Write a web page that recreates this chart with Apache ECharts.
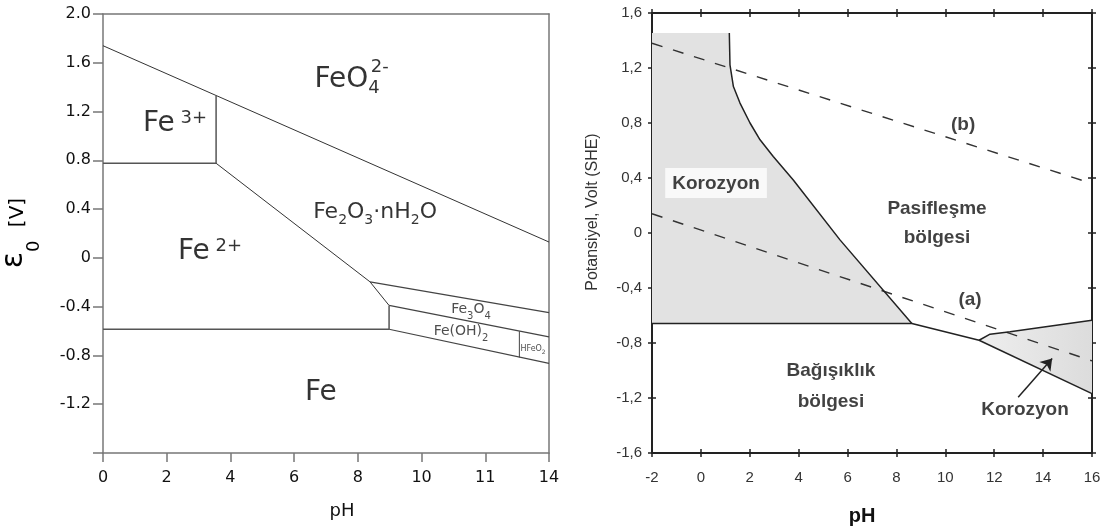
<!DOCTYPE html>
<html><head><meta charset="utf-8">
<script src="https://cdn.jsdelivr.net/npm/echarts@6/dist/echarts.min.js"></script>
<style>html,body{margin:0;padding:0;background:#fff}#c{width:1107px;height:530px}</style>
</head><body><div id="c"></div>
<script>
// ---------- Left diagram (Fe, epsilon_0 vs pH) ----------
const leftXTickLabels = ['0','2','4','6','8','10','11','14'];
const leftUpper = [[0,1.74],[14,0.13]];
const leftFe3Fe2 = [[0,0.776],[3.55,0.776]];
const leftFe3Vert = [[3.55,0.776],[3.55,1.33]];
const leftFe2Oxide = [[3.55,0.776],[8.38,-0.196],[8.98,-0.39]];
const leftFe3o4Top = [[8.38,-0.196],[14,-0.449]];
const leftFe3o4Bottom = [[8.98,-0.39],[14,-0.647]];
const leftFeOhBottom = [[8.98,-0.585],[14,-0.865]];
const leftFe2Vert = [[8.98,-0.39],[8.98,-0.585]];
const leftFeFe2 = [[0,-0.585],[8.98,-0.585]];
const leftHfeo2Vert = [[13.07,-0.602],[13.07,-0.817]];
// label anchor points [pH, E]
const leftLabelFeO4 = [7.66,1.461];
const leftLabelFeO4Charge = [8.69,1.559];
const leftLabelFe3 = [2.26,1.10];
const leftLabelFe2 = [3.36,0.052];
const leftLabelFe2O3 = [8.54,0.376];
const leftLabelFe3O4 = [11.55,-0.424];
const leftLabelFeOH2 = [11.24,-0.604];
const leftLabelHFeO2 = [13.5,-0.743];
const leftLabelFe = [6.84,-1.108];

// ---------- Right diagram (Potansiyel vs pH) ----------
const rightCorrosionAcidArea = [[-2,1.454],[1.163,1.454],[1.19,1.223],[1.33,1.065],[1.6,0.945],[2.01,0.80],[2.42,0.678],[2.96,0.556],[3.78,0.386],[5.69,-0.05],[8.63,-0.658],[-2,-0.658]];
const rightCorrosionAcidEdge = [[1.163,1.454],[1.19,1.223],[1.33,1.065],[1.6,0.945],[2.01,0.80],[2.42,0.678],[2.96,0.556],[3.78,0.386],[5.69,-0.05],[8.63,-0.658]];
const rightImmunityTop = [[-2,-0.658],[8.63,-0.658],[11.38,-0.78]];
const rightCorrosionAlkArea = [[11.38,-0.78],[11.83,-0.736],[12.65,-0.719],[16,-0.634],[16,-1.168]];
const rightAlkUpper = [[11.38,-0.78],[11.83,-0.736],[12.65,-0.719],[16,-0.634]];
const rightAlkLower = [[11.38,-0.78],[16,-1.168]];
const rightWaterA = [[-2,0.14],[16,-0.93]];
const rightWaterB = [[-2,1.38],[16,0.36]];
const rightArrow = [[12.98,-1.195],[14.37,-0.913]];
const rightLabelKorozyon1 = [0.62,0.364];
const rightLabelB = [10.73,0.786];
const rightLabelPas1 = [9.66,0.175];
const rightLabelPas2 = [9.66,-0.032];
const rightLabelA = [11.01,-0.488];
const rightLabelBag1 = [5.32,-1.005];
const rightLabelBag2 = [5.32,-1.231];
const rightLabelKorozyon2 = [13.26,-1.289];

const DV = 'DejaVu Sans';
const LS = 'Liberation Sans';
const NB = '"Liberation Sans Narrow", "Liberation Sans", Arial, sans-serif';
const chart = echarts.init(document.getElementById('c'), null, {renderer:'canvas'});

function seg(data, xi, color, width, type) {
  return {type:'line', xAxisIndex:xi, yAxisIndex:xi, data:data, showSymbol:false, symbol:'none', silent:true,
    lineStyle:{color:color||'#333', width:width||1, type:type||'solid'}, z:5, animation:false};
}
function lbl(pos, text, rich, extra) {
  return {value:pos, label:Object.assign({show:true, position:'inside', formatter:text, rich:rich, align:'center', verticalAlign:'middle'}, extra||{})};
}
// main + subscript pair: sub centre sits 'drop' px below the main baseline
function subPair(family, main, sub, drop, color) {
  const P = 0.86 * main + drop - sub / 2;
  const H = Math.max(main, P + sub);
  return {
    main:{fontFamily:family, fontSize:main, color:color, verticalAlign:'top'},
    sub:{fontFamily:family, fontSize:sub, color:color, verticalAlign:'top', padding:[P,0,0,0]},
    off:(H - main) / 2
  };
}
const pFeO4 = subPair(DV, 28, 18, -1.5, '#000');
const pFe2O3 = subPair(DV, 22, 14, 0, '#000');
const pSmall = subPair(DV, 14, 10, 1.5, '#222');
const pTiny = subPair(DV, 8, 6, 1, '#222');
const leftRich = {
  b:{fontFamily:DV, fontSize:28, color:'#000'},
  fb:pFeO4.main, fs:pFeO4.sub,
  m:pFe2O3.main, ms:pFe2O3.sub,
  t:pSmall.main, ts:pSmall.sub,
  h:pTiny.main, hs:pTiny.sub,
  sup:{fontFamily:DV, fontSize:18, color:'#000', verticalAlign:'top'},
  c:{fontFamily:DV, fontSize:18, color:'#000'}
};
const rightRich = {
  k:{fontFamily:NB, fontSize:19, fontWeight:'bold', color:'#111'}
};

function tickAxis(grid, pos, min, max, interval, inside, lineShow, labelOpt) {
  return {gridIndex:grid, type:'value', position:pos, min:min, max:max, interval:interval,
    axisLine:{show:lineShow, onZero:false, lineStyle:{color:'#222', width:2}},
    axisTick:{show:true, inside:inside, length:4, lineStyle:{color:'#222', width:1.5}},
    axisLabel:labelOpt || {show:false}, splitLine:{show:false}};
}

// y-title rich: epsilon with deep subscript 0, then [V] on the same baseline
const eMain = 30, eSub = 18, eDrop = 9.5, vSize = 20;
const eBase = eMain / 2 + 0.36 * eMain;
const eP = eBase + eDrop - eSub / 2;
const eH = Math.max(eMain, eP + eSub);
const vP = eBase - 0.36 * vSize - vSize / 2;
const eCenterShift = eH / 2 - eMain / 2;

const option = {
  backgroundColor:'#fff',
  animation:false,
  grid:[
    {left:103, top:14, width:446, height:439},
    {left:652, top:13, width:440, height:440},
    {left:652, top:13, width:440, height:440}
  ],
  xAxis:[
    {gridIndex:0, type:'value', position:'bottom', min:0, max:14, interval:2,
      axisLine:{onZero:false, lineStyle:{color:'#777', width:1.5}},
      axisTick:{length:9, lineStyle:{color:'#777', width:1.5}},
      axisLabel:{margin:17, fontFamily:DV, fontSize:16, color:'#111', formatter:function(v){return leftXTickLabels[Math.round(v/2)];}},
      splitLine:{show:false}},
    {gridIndex:0, type:'value', position:'top', min:0, max:14,
      axisLine:{onZero:false, lineStyle:{color:'#777', width:1.5}}, axisTick:{show:false}, axisLabel:{show:false}, splitLine:{show:false}},
    tickAxis(1,'bottom',-2,16,2,false,true,{margin:17, fontFamily:LS, fontSize:15, color:'#333'}),
    tickAxis(1,'top',-2,16,2,false,true,null),
    tickAxis(2,'bottom',-2,16,2,true,false,null),
    tickAxis(2,'top',-2,16,2,true,false,null)
  ],
  yAxis:[
    {gridIndex:0, type:'value', position:'left', min:-1.6, max:2.0, interval:0.4,
      axisLine:{onZero:false, lineStyle:{color:'#777', width:1.5}},
      axisTick:{length:10, lineStyle:{color:'#777', width:1.5}},
      axisLabel:{margin:12, fontFamily:DV, fontSize:16, color:'#111', formatter:function(v){
        if (Math.abs(v+1.6)<1e-6) return '';
        if (Math.abs(v)<1e-6) return '0';
        return v.toFixed(1);}},
      splitLine:{show:false}},
    {gridIndex:0, type:'value', position:'right', min:-1.6, max:2.0,
      axisLine:{onZero:false, lineStyle:{color:'#777', width:1.5}}, axisTick:{show:false}, axisLabel:{show:false}, splitLine:{show:false}},
    tickAxis(1,'left',-1.6,1.6,0.4,false,true,{margin:10, fontFamily:LS, fontSize:15, color:'#333', formatter:function(v){
        if (Math.abs(v)<1e-6) return '0';
        return v.toFixed(1).replace('.',',');}}),
    tickAxis(1,'right',-1.6,1.6,0.4,false,true,null),
    tickAxis(2,'left',-1.6,1.6,0.4,true,false,null),
    tickAxis(2,'right',-1.6,1.6,0.4,true,false,null)
  ],
  series:[
    // left lines
    seg(leftUpper,0,'#333',1), seg(leftFe3Fe2,0,'#555',1.5), seg(leftFe3Vert,0,'#555',1.5),
    seg(leftFe2Oxide,0,'#333',1), seg(leftFe3o4Top,0,'#444',1.2), seg(leftFe3o4Bottom,0,'#444',1.2),
    seg(leftFeOhBottom,0,'#444',1.2), seg(leftFe2Vert,0,'#555',1.5), seg(leftFeFe2,0,'#555',1.5),
    seg(leftHfeo2Vert,0,'#444',1),
    // left labels
    {type:'scatter', xAxisIndex:0, yAxisIndex:0, symbolSize:0, silent:true, z:10, data:[
      lbl(leftLabelFeO4,'{fb|FeO}{fs|4}',leftRich,{offset:[0,pFeO4.off]}),
      lbl(leftLabelFeO4Charge,'{c|2-}',leftRich),
      lbl(leftLabelFe3,'{b|Fe}{sup| 3+}',leftRich),
      lbl(leftLabelFe2,'{b|Fe}{sup| 2+}',leftRich),
      lbl(leftLabelFe2O3,'{m|Fe}{ms|2}{m|O}{ms|3}{m|·nH}{ms|2}{m|O}',leftRich,{offset:[0,pFe2O3.off]}),
      lbl(leftLabelFe3O4,'{t|Fe}{ts|3}{t|O}{ts|4}',leftRich,{offset:[0,pSmall.off]}),
      lbl(leftLabelFeOH2,'{t|Fe(OH)}{ts|2}',leftRich,{offset:[0,pSmall.off]}),
      lbl(leftLabelHFeO2,'{h|HFeO}{hs|2}',leftRich,{offset:[0,pTiny.off]}),
      lbl(leftLabelFe,'{b|Fe}',leftRich)
    ]},
    // right fills
    {type:'custom', xAxisIndex:2, yAxisIndex:2, silent:true, z:1, data:rightCorrosionAcidArea,
      renderItem:function(p, api){ if (p.dataIndex!==0) return null;
        return {type:'polygon', shape:{points:rightCorrosionAcidArea.map(function(q){return api.coord(q);})}, style:{fill:'#e2e2e2'}};}},
    {type:'custom', xAxisIndex:2, yAxisIndex:2, silent:true, z:1, data:rightCorrosionAlkArea,
      renderItem:function(p, api){ if (p.dataIndex!==0) return null;
        const pts = rightCorrosionAlkArea.map(function(q){return api.coord(q);});
        return {type:'polygon', shape:{points:pts}, style:{fill:new echarts.graphic.LinearGradient(0,0,1,0,[{offset:0,color:'#eeeeee'},{offset:1,color:'#dcdcdc'}])}};}},
    // right dashed water lines
    seg(rightWaterA,2,'#333',1.4,[11,11]), seg(rightWaterB,2,'#333',1.4,[11,11]),
    // right solid boundaries
    seg(rightCorrosionAcidEdge,2,'#222',1.5), seg(rightImmunityTop,2,'#222',1.5),
    seg(rightAlkUpper,2,'#222',1.5), seg(rightAlkLower,2,'#222',1.5),
    {type:'lines', coordinateSystem:'cartesian2d', xAxisIndex:2, yAxisIndex:2, silent:true, z:6,
      symbol:['none','arrow'], symbolSize:11, lineStyle:{color:'#222', width:1.5, opacity:1},
      data:[{coords:rightArrow}]},
    {type:'scatter', xAxisIndex:2, yAxisIndex:2, symbolSize:0, silent:true, z:10, data:[
      lbl(rightLabelKorozyon1,'{k|Korozyon}',rightRich,{backgroundColor:'#fff', padding:[6,7,5,7]}),
      lbl(rightLabelB,'{k|(b)}',rightRich),
      lbl(rightLabelPas1,'{k|Pasifleşme}',rightRich),
      lbl(rightLabelPas2,'{k|bölgesi}',rightRich),
      lbl(rightLabelA,'{k|(a)}',rightRich),
      lbl(rightLabelBag1,'{k|Bağışıklık}',rightRich),
      lbl(rightLabelBag2,'{k|bölgesi}',rightRich),
      lbl(rightLabelKorozyon2,'{k|Korozyon}',rightRich)
    ]}
  ],
  graphic:[
    {type:'text', x:14.2 + eCenterShift, y:233, rotation:Math.PI/2, silent:true,
      style:{text:'{e|ε}{s|0}{g|   }{v|[V]}', align:'center', verticalAlign:'middle',
        rich:{
          e:{fontFamily:DV, fontSize:eMain, fill:'#000', verticalAlign:'top'},
          s:{fontFamily:DV, fontSize:eSub, fill:'#000', verticalAlign:'top', padding:[eP,0,0,0]},
          g:{fontFamily:DV, fontSize:14, verticalAlign:'top'},
          v:{fontFamily:DV, fontSize:vSize, fill:'#000', verticalAlign:'top', padding:[vP,0,0,0]}}}},
    {type:'text', x:342, y:511, silent:true, style:{text:'pH', fontFamily:DV, fontSize:18, fill:'#111', align:'center', verticalAlign:'middle'}},
    {type:'text', x:593, y:212, rotation:Math.PI/2, silent:true, style:{text:'Potansiyel, Volt (SHE)', fontFamily:LS, fontSize:16, fill:'#333', align:'center', verticalAlign:'middle'}},
    {type:'text', x:862, y:516, silent:true, style:{text:'pH', fontFamily:NB, fontSize:20, fontWeight:'bold', fill:'#111', align:'center', verticalAlign:'middle'}}
  ]
};
chart.setOption(option);
</script>
</body></html>
